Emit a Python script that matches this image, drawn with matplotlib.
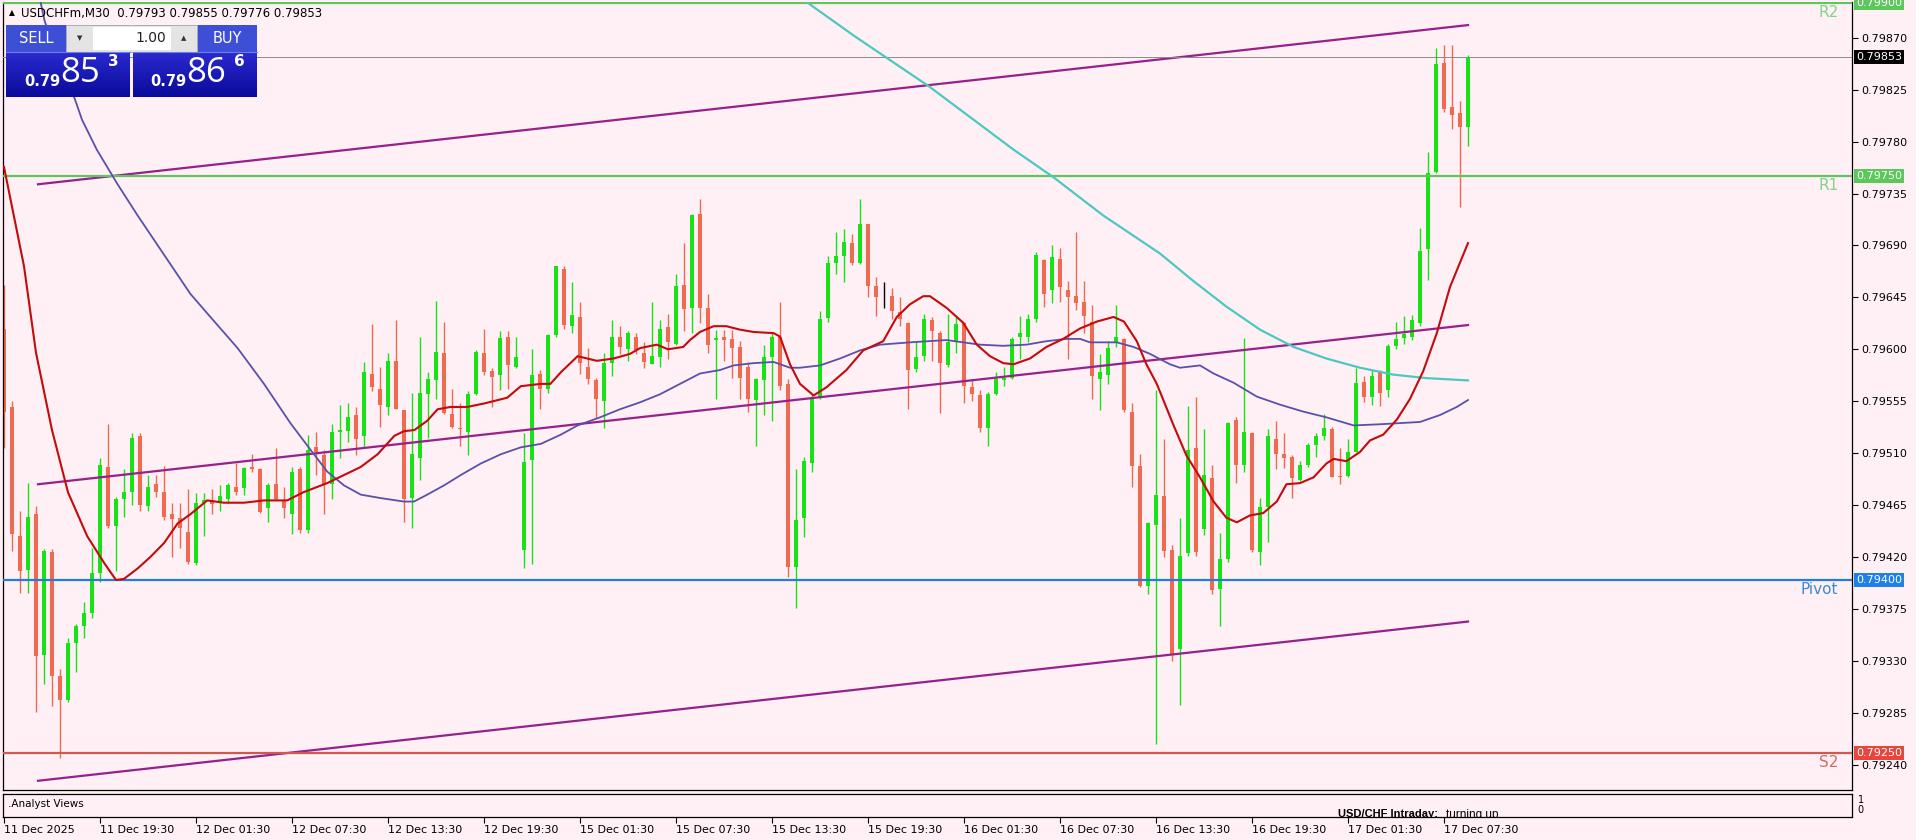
import numpy as np
import matplotlib.pyplot as plt
import matplotlib.transforms as mtransforms
from matplotlib.patches import Rectangle
from matplotlib.colors import LinearSegmentedColormap

PT = 1e-5  # prices below are written in points (1 point = 0.00001)

# USDCHFm M30 candles, bar 0 = 11 Dec 13:30
opens = np.array([
    79618, 79550, 79438, 79409, 79457, 79335, 79424, 79317, 79296, 79345,
    79360, 79371, 79406, 79498, 79447, 79470, 79476, 79525, 79464, 79483,
    79476, 79457, 79454, 79442, 79415, 79467, 79469, 79467, 79470, 79481,
    79480, 79498, 79496, 79462, 79483, 79469, 79457, 79496, 79443, 79515,
    79508, 79483, 79528, 79529, 79543, 79525, 79579, 79566, 79550, 79590,
    79547, 79471, 79506, 79561, 79573, 79597, 79544, 79532, 79528, 79561,
    79597, 79581, 79578, 79611, 79585, 79426, 79504, 79579, 79566, 79612,
    79670, 79620, 79628, 79585, 79573, 79555, 79588, 79611, 79600, 79611,
    79597, 79587, 79593, 79619, 79605, 79656, 79636, 79717, 79636, 79608,
    79611, 79609, 79602, 79585, 79556, 79573, 79593, 79611, 79570, 79411,
    79454, 79501, 79558, 79627, 79675, 79681, 79692, 79675, 79709, 79655,
    79645, 79646, 79632, 79623, 79583, 79594, 79625, 79614, 79586, 79606,
    79623, 79567, 79560, 79532, 79561, 79573, 79575, 79611, 79611, 79626,
    79677, 79651, 79678, 79651, 79646, 79641, 79624, 79574, 79578, 79606,
    79609, 79546, 79499, 79395, 79448, 79473, 79426, 79340, 79423, 79514,
    79444, 79488, 79392, 79418, 79539, 79500, 79527, 79424, 79463, 79522,
    79509, 79507, 79487, 79500, 79517, 79525, 79531, 79490, 79490, 79511,
    79572, 79559, 79581, 79565, 79603, 79610, 79611, 79623, 79687, 79754,
    79848, 79810, 79805, 79793]) * PT
highs = np.array([
    79656, 79555, 79460, 79484, 79464, 79427, 79427, 79323, 79350, 79362,
    79381, 79428, 79506, 79535, 79472, 79496, 79527, 79527, 79491, 79491,
    79499, 79467, 79467, 79479, 79475, 79475, 79479, 79482, 79484, 79501,
    79498, 79509, 79497, 79484, 79514, 79481, 79498, 79498, 79526, 79528,
    79513, 79535, 79552, 79553, 79550, 79589, 79622, 79585, 79597, 79625,
    79547, 79562, 79611, 79580, 79642, 79624, 79566, 79553, 79564, 79599,
    79618, 79584, 79616, 79616, 79611, 79527, 79600, 79582, 79613, 79672,
    79672, 79658, 79641, 79601, 79575, 79597, 79625, 79620, 79616, 79614,
    79606, 79641, 79625, 79631, 79665, 79692, 79717, 79730, 79648, 79617,
    79617, 79617, 79607, 79589, 79575, 79604, 79614, 79641, 79574, 79496,
    79507, 79561, 79633, 79681, 79702, 79704, 79700, 79730, 79709, 79663,
    79658, 79653, 79645, 79624, 79606, 79631, 79628, 79616, 79631, 79629,
    79624, 79574, 79565, 79563, 79580, 79585, 79611, 79629, 79631, 79684,
    79678, 79690, 79688, 79659, 79702, 79659, 79638, 79596, 79607, 79638,
    79610, 79553, 79509, 79450, 79565, 79522, 79430, 79454, 79551, 79559,
    79531, 79500, 79441, 79537, 79541, 79610, 79528, 79471, 79531, 79538,
    79527, 79508, 79503, 79519, 79527, 79544, 79533, 79514, 79522, 79584,
    79577, 79582, 79582, 79605, 79624, 79629, 79630, 79705, 79771, 79861,
    79864, 79864, 79815, 79855]) * PT
lows = np.array([
    79514, 79425, 79389, 79389, 79286, 79310, 79291, 79246, 79294, 79320,
    79350, 79367, 79398, 79445, 79408, 79455, 79465, 79460, 79460, 79472,
    79452, 79420, 79428, 79414, 79413, 79438, 79457, 79460, 79467, 79474,
    79474, 79494, 79458, 79450, 79469, 79454, 79440, 79441, 79441, 79491,
    79457, 79470, 79506, 79520, 79508, 79514, 79564, 79533, 79543, 79548,
    79450, 79445, 79487, 79523, 79557, 79544, 79532, 79516, 79508, 79560,
    79578, 79550, 79565, 79566, 79584, 79410, 79414, 79548, 79562, 79611,
    79618, 79614, 79579, 79570, 79540, 79532, 79577, 79596, 79590, 79596,
    79584, 79587, 79585, 79592, 79604, 79616, 79614, 79623, 79597, 79557,
    79590, 79575, 79557, 79546, 79516, 79543, 79538, 79565, 79403, 79376,
    79437, 79494, 79557, 79624, 79665, 79658, 79673, 79674, 79645, 79629,
    79636, 79626, 79620, 79548, 79580, 79590, 79590, 79545, 79585, 79597,
    79553, 79555, 79528, 79516, 79560, 79568, 79574, 79592, 79606, 79624,
    79637, 79640, 79641, 79592, 79634, 79614, 79557, 79547, 79570, 79602,
    79546, 79481, 79394, 79388, 79258, 79420, 79330, 79292, 79421, 79421,
    79439, 79388, 79360, 79416, 79484, 79494, 79424, 79413, 79433, 79496,
    79497, 79471, 79486, 79498, 79507, 79521, 79489, 79483, 79489, 79511,
    79554, 79552, 79551, 79559, 79600, 79605, 79608, 79620, 79660, 79753,
    79806, 79791, 79723, 79776]) * PT
closes = np.array([
    79546, 79440, 79408, 79455, 79334, 79425, 79317, 79296, 79345, 79360,
    79371, 79406, 79500, 79447, 79470, 79476, 79523, 79465, 79481, 79476,
    79455, 79453, 79445, 79416, 79467, 79469, 79466, 79473, 79482, 79476,
    79497, 79496, 79459, 79482, 79470, 79462, 79494, 79443, 79513, 79511,
    79482, 79528, 79530, 79541, 79522, 79580, 79567, 79552, 79590, 79548,
    79470, 79509, 79562, 79574, 79598, 79545, 79533, 79531, 79561, 79598,
    79580, 79576, 79610, 79586, 79593, 79502, 79578, 79566, 79612, 79672,
    79621, 79630, 79588, 79574, 79557, 79588, 79611, 79602, 79614, 79599,
    79589, 79594, 79618, 79606, 79655, 79635, 79716, 79636, 79604, 79610,
    79608, 79601, 79575, 79557, 79574, 79593, 79611, 79568, 79411, 79452,
    79503, 79558, 79626, 79675, 79681, 79693, 79675, 79709, 79655, 79645,
    79645, 79633, 79626, 79582, 79593, 79626, 79616, 79588, 79606, 79622,
    79568, 79561, 79532, 79561, 79574, 79575, 79609, 79614, 79626, 79682,
    79648, 79680, 79654, 79645, 79640, 79629, 79577, 79580, 79601, 79611,
    79547, 79499, 79395, 79449, 79474, 79425, 79335, 79421, 79513, 79424,
    79491, 79391, 79418, 79536, 79500, 79528, 79426, 79463, 79525, 79509,
    79506, 79488, 79500, 79517, 79525, 79532, 79489, 79489, 79511, 79571,
    79559, 79577, 79562, 79603, 79609, 79613, 79625, 79685, 79753, 79847,
    79808, 79803, 79793, 79853]) * PT

# moving averages (bar position, price in points)
fast_ma_bar = [0, 2.5, 4, 6, 8, 10.4, 12.5, 14, 15, 16.7, 18.3, 20, 21.7, 23.3, 25.4,
               27.5, 30, 32.5, 35.4, 37.4, 40.4, 42.5, 44.6, 46.7, 48.8, 50, 51.3, 52.9,
               54.2, 55.8, 57.9, 60, 62.9, 64.6, 67.1, 68.3, 69.6, 71.7, 74.1, 76.2, 78.25,
               79.5, 81.6, 83, 84.9, 85.75, 87, 88.7, 90.3, 92, 93.7, 96.2, 97, 98.25, 99.5,
               101.2, 102.8, 105.3, 107.4, 109.9, 111.6, 113.25, 114.9, 115.75, 117.8,
               119.9, 121.6, 123.25, 124.9, 126.2, 128.25, 130.3, 132.4, 134.5, 136.6,
               138.7, 140, 141.6, 142.8, 144.1, 146.2, 147.8, 149.5, 151.2, 152.8, 154.1,
               155.75, 157.4, 159.1, 160.3, 162, 163.7, 165.3, 166.2, 167.8, 169.5, 170.75,
               172.4, 174.1, 175.75, 177.4, 179.1, 180.75, 183]
fast_ma = [79758, 79672, 79597, 79530, 79476, 79438, 79415, 79400, 79401, 79410, 79420,
           79432, 79449, 79457, 79469, 79467, 79467, 79469, 79469, 79476, 79484, 79491,
           79498, 79509, 79525, 79529, 79530, 79538, 79548, 79550, 79550, 79553, 79558,
           79568, 79570, 79570, 79580, 79594, 79590, 79592, 79596, 79601, 79604, 79600,
           79602, 79608, 79615, 79620, 79620, 79617, 79615, 79614, 79611, 79587, 79570,
           79560, 79567, 79582, 79599, 79607, 79628, 79639, 79646, 79646, 79636, 79623,
           79604, 79594, 79588, 79587, 79592, 79602, 79609, 79618, 79624, 79628, 79624,
           79607, 79587, 79570, 79534, 79508, 79489, 79468, 79454, 79450, 79456, 79458,
           79468, 79483, 79484, 79489, 79501, 79505, 79503, 79511, 79521, 79526, 79539,
           79557, 79581, 79614, 79654, 79692]
slow_ma_bar = [3.5, 4.5, 5.1, 8.9, 9.75, 11.6, 14.2, 16.7, 20, 23.3, 25.8, 29.2, 32.5,
               35.8, 38.3, 40.4, 42.5, 44.6, 47.1, 50, 51.25, 52.9, 55, 57.1, 59.6, 62.1,
               64.6, 67.1, 69.6, 71.7, 74.5, 77, 79.5, 82, 84.5, 87, 89.5, 91.2, 93.7, 96.2,
               98.25, 99.5, 102, 104.5, 107, 109.5, 113.25, 117.8, 119.9, 122, 124.9, 127.8,
               130.3, 132.8, 134.5, 135.75, 139.1, 141.2, 143.25, 145.75, 147, 149.5, 151.2,
               153.7, 156.6, 159.5, 162.4, 165.3, 168.7, 172, 174.5, 177, 179.5, 181.6, 183]
slow_ma = [79915, 79903, 79884, 79816, 79799, 79773, 79743, 79716, 79682, 79648, 79628,
           79601, 79570, 79536, 79513, 79494, 79482, 79474, 79471, 79468, 79468, 79474,
           79482, 79491, 79501, 79509, 79515, 79518, 79526, 79534, 79541, 79548, 79554,
           79561, 79570, 79579, 79582, 79586, 79588, 79589, 79584, 79584, 79586, 79592,
           79599, 79604, 79606, 79608, 79606, 79604, 79603, 79604, 79607, 79609, 79609,
           79606, 79606, 79602, 79596, 79587, 79584, 79586, 79579, 79571, 79559, 79552,
           79546, 79541, 79534, 79535, 79536, 79537, 79543, 79550, 79556]
long_ma_bar = [98.5, 106.4, 115.6, 126.2, 131.2, 137.4, 144.5, 148.7, 152.8, 157, 161.2,
               165.3, 169.5, 173.7, 177.8, 183]
long_ma = [79910, 79871, 79828, 79773, 79749, 79716, 79683, 79659, 79637, 79617, 79602,
           79592, 79584, 79578, 79575, 79573]

# regression channel
channel_bars = [4.25, 183]
channel_top = [79743, 79881]
channel_mid = [79483, 79621]
channel_bottom = [79226, 79364]

# pivot levels
level_names = ["R2", "R1", "Pivot", "S2"]
level_values = [0.79900, 0.79750, 0.79400, 0.79250]
last_price = 0.79853
bid, ask = "0.79853", "0.79866"

price_ticks = [0.79870, 0.79825, 0.79780, 0.79735, 0.79690, 0.79645, 0.79600, 0.79555,
               0.79510, 0.79465, 0.79420, 0.79375, 0.79330, 0.79285, 0.79240]
time_tick_bars = list(range(0, 181, 12))
time_labels = ["11 Dec 2025", "11 Dec 19:30", "12 Dec 01:30", "12 Dec 07:30",
               "12 Dec 13:30", "12 Dec 19:30", "15 Dec 01:30", "15 Dec 07:30",
               "15 Dec 13:30", "15 Dec 19:30", "16 Dec 01:30", "16 Dec 07:30",
               "16 Dec 13:30", "16 Dec 19:30", "17 Dec 01:30", "17 Dec 07:30"]

# ---------------------------------------------------------------
W, H = 1916, 840
BG = "#FFF0F5"
BULL, BEAR = "#16E216", "#F06A50"
level_colors = ["#5CC85C", "#5CC85C", "#1F7FE0", "#D0584E"]
level_text_colors = ["#80D488", "#80D488", "#3A8AD6", "#D86A60"]
tag_colors = ["#5CC85C", "#5CC85C", "#1E80E8", "#E8463C"]


def fig_box(left, top, right, bottom):
    return [left / W, 1 - bottom / H, (right - left) / W, (bottom - top) / H]


fig = plt.figure(figsize=(W / 100, H / 100), dpi=100, facecolor=BG)
ax = fig.add_axes(fig_box(3, 2, 1852, 790))
ax.set_facecolor(BG)

idx = np.arange(len(opens))
colors = np.where(closes > opens, BULL, np.where(closes < opens, BEAR, "black"))
ax.vlines(idx, lows, highs, colors=colors, lw=1.0, zorder=2)
body_lo = np.minimum(opens, closes)
body_h = np.maximum(np.abs(closes - opens), 0.7 * PT)
ax.bar(idx, body_h, width=0.62, bottom=body_lo, color=colors, lw=0, zorder=2)

# channel + MAs
for ch in (channel_top, channel_mid, channel_bottom):
    ax.plot(channel_bars, np.array(ch) * PT, color="#98208C", lw=1.6, zorder=3)
ax.plot(long_ma_bar, np.array(long_ma) * PT, color="#4CC8C0", lw=1.6, zorder=4)
ax.plot(slow_ma_bar, np.array(slow_ma) * PT, color="#5A50AA", lw=1.3, zorder=4)
ax.plot(fast_ma_bar, np.array(fast_ma) * PT, color="#C40A0A", lw=1.5, zorder=4)

# horizontal levels
ax.axhline(last_price, color="#8A8A8A", lw=0.7, zorder=3)
for name, v, c, tc in zip(level_names, level_values, level_colors, level_text_colors):
    ax.axhline(v, color=c, lw=1.6, zorder=3)
    ax.text(229.3, v - 1.5 * PT, name, ha="right", va="top", color=tc,
            fontsize=11, zorder=5)

ax.set_xlim(-0.125, 231)
ax.set_ylim(0.79218, 0.79901)
ax.set_xticks([])
ax.yaxis.tick_right()
ax.set_yticks(price_ticks)
ax.set_yticklabels([f"{t:.5f}" for t in price_ticks])
ax.tick_params(axis="y", length=4, width=0.8, labelsize=8, pad=3)
for s in ("left", "right", "bottom"):
    ax.spines[s].set_color("black")
    ax.spines[s].set_linewidth(0.9)
ax.spines["top"].set_visible(False)

# price tags on the axis
tag_tr = mtransforms.blended_transform_factory(ax.transAxes, ax.transData)


def price_tag(v, fc):
    ax.text(1.0022, v, f"{v:.5f}", transform=tag_tr, ha="left", va="center",
            fontsize=8, color="white", clip_on=False, zorder=6,
            bbox=dict(boxstyle="square,pad=0.18", fc=fc, ec="none"))


for v, fc in zip(level_values, tag_colors):
    price_tag(v, fc)
price_tag(last_price, "black")

# indicator sub-window
ax2 = fig.add_axes(fig_box(3, 794, 1852, 817))
ax2.set_facecolor(BG)
ax2.set_xlim(-0.125, 231)
ax2.set_ylim(0, 1)
ax2.set_yticks([])
ax2.set_xticks(time_tick_bars)
ax2.set_xticklabels(time_labels)
ax2.tick_params(axis="x", length=4, width=0.8, labelsize=8, pad=2)
for lab in ax2.get_xticklabels():
    lab.set_ha("left")
for s in ax2.spines.values():
    s.set_linewidth(0.9)
ax2.text(0.0025, 0.55, ".Analyst Views", transform=ax2.transAxes, fontsize=7.5,
         va="center")
sub_tr = mtransforms.blended_transform_factory(ax2.transData, ax2.transAxes)
ax2.text(166.75, 0.33, "USD/CHF Intraday:", transform=sub_tr, fontsize=8,
         family="Liberation Sans", fontweight="bold", va="top", clip_on=True)
ax2.text(180.25, 0.33, "turning up.", transform=sub_tr, fontsize=8.5,
         family="Liberation Sans", va="top", clip_on=True)
ax2.text(1.003, 0.75, "1", transform=ax2.transAxes, fontsize=7, va="center")
ax2.text(1.003, 0.3, "0", transform=ax2.transAxes, fontsize=7, va="center")

# header
fig.text(9 / W, 1 - 13 / H, "\u25b2", fontsize=5.5, va="center")
fig.text(21 / W, 1 - 13 / H, "USDCHFm,M30  0.79793 0.79855 0.79776 0.79853",
         fontsize=8.5, va="center")

# one-click trading panel, drawn in pixel coordinates
ov = fig.add_axes([0, 0, 1, 1], zorder=10)
ov.axis("off")
blue_grad = LinearSegmentedColormap.from_list("bg", ["#2A2AD0", "#0A0A9A"])
grad = np.linspace(0, 1, 60).reshape(-1, 1)
for x0, x1 in ((6, 130), (133, 257)):
    ov.add_patch(Rectangle((x0, 25), x1 - x0, 27, fc="#3C4FD6", ec="none"))
    ov.imshow(grad, extent=(x0, x1, 97, 52), cmap=blue_grad, aspect="auto",
              interpolation="bilinear")
    ov.plot([x0, x1], [52, 52], color="#6E7EE6", lw=0.8)
ov.add_patch(Rectangle((66, 25), 131, 27, fc="#E4E4E4", ec="#B0B0B0", lw=0.6))
ov.add_patch(Rectangle((93, 27), 78, 23, fc="white", ec="none"))
ov.text(79.5, 38.5, "\u25bc", fontsize=5, ha="center", va="center", color="#333333")
ov.text(184, 38.5, "\u25b2", fontsize=5, ha="center", va="center", color="#333333")
ov.text(166, 38.5, "1.00", fontsize=10, ha="right", va="center", color="#222222")
ov.text(36, 38.5, "SELL", fontsize=10.5, ha="center", va="center", color="white")
ov.text(227, 38.5, "BUY", fontsize=10.5, ha="center", va="center", color="white")
for x0, price in ((24, bid), (150, ask)):
    ov.text(x0, 82, price[:4], fontsize=10.5, fontweight="bold", ha="left",
            va="center", color="white")
    ov.text(x0 + 36, 73, price[4:6], fontsize=25, family="Open Sans", ha="left",
            va="center", color="white")
    ov.text(x0 + 84, 61, price[6], fontsize=11, fontweight="bold", ha="left",
            va="center", color="white")
ov.set_xlim(0, W)
ov.set_ylim(H, 0)

fig.savefig("out.png", dpi=100, facecolor=BG)
